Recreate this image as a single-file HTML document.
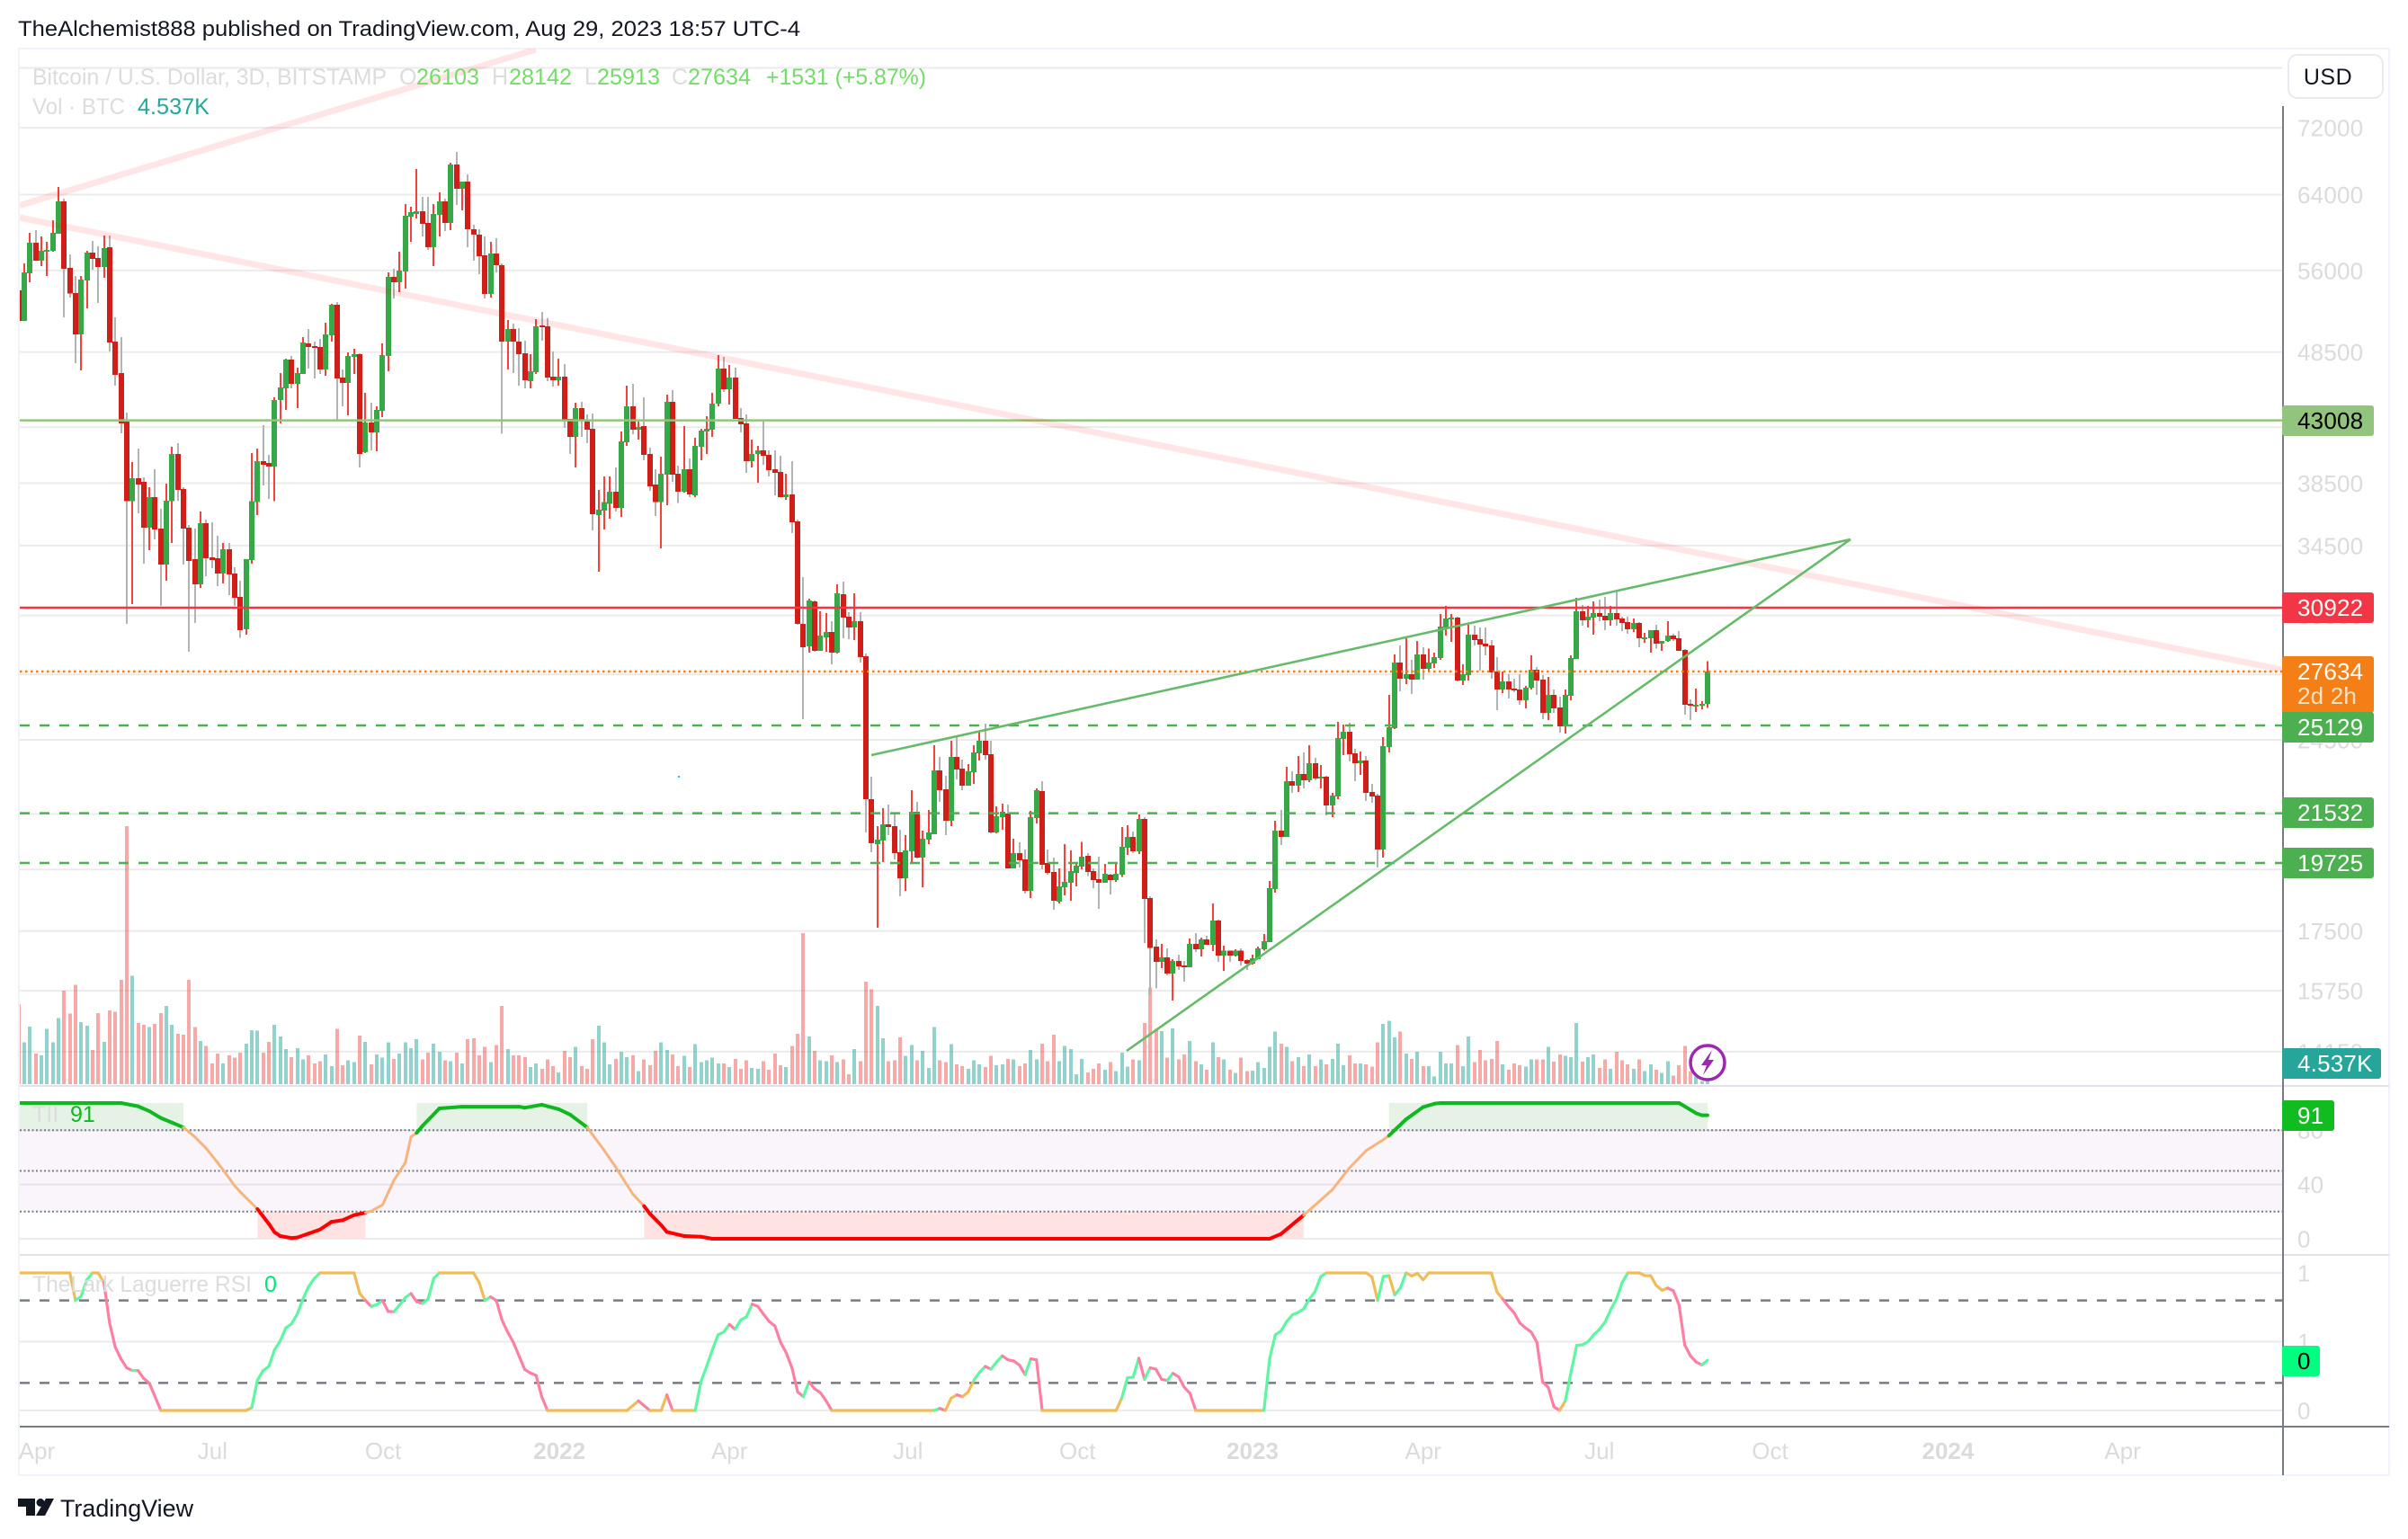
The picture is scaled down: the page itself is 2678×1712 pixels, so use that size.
<!DOCTYPE html>
<html lang="en">
<head>
<meta charset="utf-8">
<title>BTCUSD 3D chart</title>
<style>
html,body{margin:0;padding:0;background:#fff;}
svg{display:block;font-family:"Liberation Sans",sans-serif;}
</style>
</head>
<body>
<svg id="chart" xmlns="http://www.w3.org/2000/svg" width="2678" height="1712" viewBox="0 0 2678 1712">
  <defs>
    <clipPath id="paneClip"><rect x="22" y="54" width="2516" height="1533"/></clipPath>
  </defs>
  <rect x="0" y="0" width="2678" height="1712" fill="#ffffff"/>
  <text x="20" y="40" font-size="24.5" fill="#131722" textLength="870" lengthAdjust="spacingAndGlyphs">TheAlchemist888 published on TradingView.com, Aug 29, 2023 18:57 UTC-4</text>
  <rect x="21" y="54" width="2636" height="1587" fill="none" stroke="#F0F3FA" stroke-width="2"/>
  <g id="priceGrid"></g>
  <g id="paneBands" clip-path="url(#paneClip)"></g>
  <g id="volumeBars" clip-path="url(#paneClip)" shape-rendering="crispEdges"></g>
  <g id="candles" clip-path="url(#paneClip)" shape-rendering="crispEdges"></g>
  <g id="drawings" clip-path="url(#paneClip)"></g>
  <g id="tiiLine" clip-path="url(#paneClip)" fill="none" stroke-linecap="round"></g>
  <g id="lrsiLine" clip-path="url(#paneClip)" fill="none" stroke-linecap="round"></g>
  <rect x="754" y="863" width="2" height="2" fill="#26C6DA"/>

  <line x1="22" y1="1208" x2="2657" y2="1208" stroke="#E0E3EB" stroke-width="2"/>
  <line x1="22" y1="1396" x2="2657" y2="1396" stroke="#E0E3EB" stroke-width="2"/>
  <line x1="22" y1="1587" x2="2657" y2="1587" stroke="#787B86" stroke-width="2"/>
  <line x1="2539" y1="118" x2="2539" y2="1641" stroke="#787B86" stroke-width="2"/>

  <g id="priceTicks" font-size="26" fill="#DBDBDB" letter-spacing="0.2"></g>
  <g id="timeTicks" font-size="26" fill="#DBDBDB" text-anchor="middle"></g>

  <g>
    <text x="36" y="94" font-size="25" fill="#DCDCDE" textLength="394" lengthAdjust="spacingAndGlyphs">Bitcoin / U.S. Dollar, 3D, BITSTAMP</text>
    <text x="444" y="94" font-size="25" fill="#DCDCDE">O</text>
    <text x="463" y="94" font-size="25" fill="#74DC68" textLength="70" lengthAdjust="spacingAndGlyphs">26103</text>
    <text x="547" y="94" font-size="25" fill="#DCDCDE">H</text>
    <text x="566" y="94" font-size="25" fill="#74DC68" textLength="70" lengthAdjust="spacingAndGlyphs">28142</text>
    <text x="650" y="94" font-size="25" fill="#DCDCDE">L</text>
    <text x="664" y="94" font-size="25" fill="#74DC68" textLength="70" lengthAdjust="spacingAndGlyphs">25913</text>
    <text x="747" y="94" font-size="25" fill="#DCDCDE">C</text>
    <text x="765" y="94" font-size="25" fill="#74DC68" textLength="70" lengthAdjust="spacingAndGlyphs">27634</text>
    <text x="852" y="94" font-size="25" fill="#74DC68" textLength="178" lengthAdjust="spacingAndGlyphs">+1531 (+5.87%)</text>
    <text x="36" y="127" font-size="25" fill="#DCDCDE" textLength="103" lengthAdjust="spacingAndGlyphs">Vol · BTC</text>
    <text x="153" y="127" font-size="25" fill="#26A69A" textLength="80" lengthAdjust="spacingAndGlyphs">4.537K</text>
  </g>
  <text x="36" y="1248" font-size="25" fill="#DCDCDE">TII</text>
  <text x="78" y="1248" font-size="25" fill="#10B820">91</text>
  <text x="36" y="1437" font-size="25" fill="#DCDCDE" textLength="244" lengthAdjust="spacingAndGlyphs">TheLark Laguerre RSI</text>
  <text x="294" y="1437" font-size="25" fill="#00E676">0</text>

  <g>
    <circle cx="1899" cy="1182" r="19" fill="#ffffff" stroke="#9C27B0" stroke-width="3.5"/>
    <polygon points="1904,1168 1892,1185 1898,1185 1894,1196 1906,1179 1900,1179" fill="#9C27B0"/>
  </g>

  <g font-size="26" letter-spacing="0.2">
    <rect x="2538" y="451" width="102" height="34" rx="3" fill="#93C47D"/>
    <text x="2555" y="477" fill="#000000">43008</text>
    <rect x="2538" y="659" width="102" height="34" rx="3" fill="#F23645"/>
    <text x="2555" y="685" fill="#ffffff">30922</text>
    <rect x="2538" y="730" width="102" height="63" rx="3" fill="#F57F17"/>
    <text x="2555" y="756" fill="#ffffff">27634</text>
    <text x="2555" y="783" fill="#FFE3C4">2d 2h</text>
    <rect x="2538" y="792" width="102" height="34" rx="3" fill="#4CAF50"/>
    <text x="2555" y="818" fill="#ffffff">25129</text>
    <rect x="2538" y="887" width="102" height="34" rx="3" fill="#4CAF50"/>
    <text x="2555" y="913" fill="#ffffff">21532</text>
    <rect x="2538" y="943" width="102" height="34" rx="3" fill="#4CAF50"/>
    <text x="2555" y="969" fill="#ffffff">19725</text>
    <rect x="2538" y="1166" width="110" height="34" rx="3" fill="#26A69A"/>
    <text x="2555" y="1192" fill="#ffffff">4.537K</text>
    <rect x="2538" y="1224" width="58" height="34" rx="3" fill="#10BC20"/>
    <text x="2555" y="1250" fill="#ffffff">91</text>
    <rect x="2538" y="1497" width="42" height="34" rx="3" fill="#00FF80"/>
    <text x="2555" y="1523" fill="#000000">0</text>
  </g>

  <rect x="2545" y="61" width="105" height="48" rx="10" fill="#ffffff" stroke="#E8EAF0" stroke-width="2"/>
  <text x="2589" y="94" font-size="25" fill="#131722" text-anchor="middle" letter-spacing="0.5">USD</text>

  <g fill="#131722">
    <polygon points="20,1667 39,1667 39,1686 29,1686 29,1676 20,1676"/>
    <circle cx="45" cy="1671.5" r="4.5"/>
    <polygon points="51,1667 60,1667 50,1686 40,1686"/>
    <text x="67" y="1687" font-size="27" textLength="148" lengthAdjust="spacingAndGlyphs">TradingView</text>
  </g>
</svg>

<script>
const opens = [54080,51240,55730,58810,56980,57880,57980,59750,63260,56260,
53820,50040,55030,57790,57250,56350,58350,49400,46740,42920,
37290,38840,38590,35600,37570,35550,33360,37290,40540,38110,
35600,33680,32220,35880,33790,33740,32830,34280,32830,31520,
29770,33630,37230,40030,39900,39650,44580,45500,47870,45870,
46670,49250,49020,48940,47040,49960,52720,46380,45940,48100,
48330,40670,42850,42110,43730,48170,55380,54850,55900,61570,
61860,62150,60900,58350,61760,63260,60900,67490,64670,65500,
60220,59650,57520,53740,57700,56530,49400,50520,49400,48400,
46090,46820,50840,50760,46450,46160,46450,43120,41780,43950,
42920,42380,36400,36690,37110,37930,36860,41380,44090,42320,
42580,40540,38410,37230,39090,44440,39150,37930,39460,37690,
41050,42170,42320,44300,47120,45430,46380,43190,42780,40030,
40540,40790,40470,39460,39270,37570,37750,36000,30050,28880,
31270,28660,29350,29630,28570,31660,30440,29860,30200,28390,
22070,20390,20520,21110,21040,20100,19200,20130,21590,19910,
20550,20750,23220,22450,21250,23770,23290,22600,23140,23920,
24460,23890,20810,21380,21520,19540,20070,19850,18780,21350,
22380,19720,19420,18420,18900,19050,19390,19600,19970,19450,
19170,19050,19330,19140,19330,20260,20650,20130,21320,18540,
17020,16570,16700,16230,16600,16470,16420,17100,16940,17240,
17080,17820,16760,16910,16760,16910,16630,16520,16650,16940,
17160,18840,20880,20650,22780,22600,23070,22820,23510,22920,
22960,21830,22180,24540,24850,23920,23510,23630,22350,22210,
20200,24190,25010,28070,27290,27500,27240,28480,27770,28030,
28300,29860,30290,30390,27200,27460,29490,29250,29020,28930,
27630,26770,27160,26810,26770,26270,26860,27720,27240,25700,
26520,25940,25130,26480,28250,30720,30240,30390,30630,30480,
30240,30630,30340,30150,29770,30100,29300,29300,29720,29020,
29160,29440,29300,28700,26100,26020,26060,26103];

const highs = [57160,56710,59840,60130,59460,58900,61180,64880,63560,57610,
55460,55460,57980,59000,58440,59560,59560,51570,49800,43600,
39960,40920,38900,38230,39460,36800,38470,41050,41310,38230,
35770,35550,36630,36110,35940,35100,34660,34660,33200,32430,
33680,40600,40920,42640,40470,44790,46740,47940,48170,47190,
49800,50520,49400,49640,51080,52800,52970,47040,48480,48790,
48400,45150,44370,44090,49250,55820,56170,57880,62960,62650,
66970,63750,63750,62960,64260,63560,67700,69010,65500,66340,
60700,60220,59460,58900,59280,56710,51320,51000,50600,49480,
48330,51400,52060,51480,48560,47940,47490,43120,44370,44440,
43460,43530,38050,38970,38970,39580,42170,45720,45870,42920,
44790,40990,39460,40350,45000,45360,39710,42580,40220,41710,
42380,43320,45150,48250,48100,47420,47190,43950,43460,41580,
41120,42980,40790,40790,40410,39150,40030,36110,32630,31420,
31320,30720,30630,30200,32220,32380,30680,31710,30680,28520,
22960,21040,21720,21860,21520,20910,20720,22420,21970,20880,
21650,24270,23770,23000,24460,24620,23660,23480,24270,24890,
25210,24460,21790,21900,21860,20590,20450,20200,21620,22490,
22780,20200,19910,19540,20390,20170,19720,20480,20070,19540,
19940,19690,19360,19690,21010,21080,20850,21490,21380,18600,
17240,17100,16970,16650,16780,16600,17270,17440,17300,17350,
18370,17850,17050,16910,16940,16970,16650,16780,17020,17410,
19110,21250,21650,23370,23180,23810,23960,24270,23740,23440,
23000,22320,25290,25170,25250,24120,24000,23810,22670,22280,
24620,26520,28480,28930,29350,28200,29160,28830,28780,28570,
30580,31020,30580,30440,27980,30000,29950,29860,29860,29210,
28340,27630,27500,27290,27500,26940,28430,27850,27460,27370,
26770,26430,26770,28430,31470,31070,31020,31270,31370,31520,
31020,31870,30440,30440,30340,30150,29580,29720,30000,29160,
30200,29530,29670,28750,26310,26810,26230,28142];

const lows = [50360,51240,54850,56940,56440,55470,57880,59750,51570,53400,
47570,46970,52390,56080,52880,55290,48560,45720,42040,30050,
31120,36520,33420,34220,34870,31020,32430,34660,37330,33360,
28610,30100,32020,32680,33150,32120,32270,31610,31020,29330,
29490,33420,36400,38350,37450,37290,42780,43800,45500,43950,
46670,47120,46300,46670,46520,49400,43050,44090,43390,46670,
39580,40600,40790,40730,43260,46890,53310,53910,54250,58900,
61380,59460,58070,56440,59460,60030,60130,62860,62260,58350,
56980,55640,53310,53400,55820,42000,47040,46740,45720,45500,
45500,46670,49480,46090,45650,45720,42440,40540,39580,41780,
41310,35430,32940,35490,36160,36630,36290,41120,41970,41580,
40090,37990,36340,34330,37050,38590,37170,37870,37570,37570,
40090,40540,41780,44090,45220,44230,43120,42110,39210,39580,
38530,39770,38970,37690,37570,37390,35270,30000,25410,28570,
28610,28660,28610,27980,28520,29300,29250,29210,28070,20810,
20100,17600,19750,20720,19850,18600,18780,19750,19880,18900,
20390,20750,21970,20720,21040,22850,22420,22600,22670,23630,
23660,20780,20780,20910,19540,19540,19570,18690,18540,21150,
19510,19330,18170,18370,18630,18450,18930,19510,19270,18870,
18200,19050,18660,19080,19240,20010,20070,20040,17130,15630,
15810,16390,16180,15480,16340,16010,16420,16860,16730,17080,
16890,16570,16310,16570,16730,16470,16340,16500,16650,16910,
17160,18720,20360,20650,22320,22350,22490,22750,22820,22490,
21450,21380,22070,23850,23590,22780,23030,22000,21930,19570,
19910,23960,24970,26690,27030,26560,27240,27240,27680,27810,
28200,29440,29110,27160,26980,27200,28930,27680,28430,27290,
25810,26600,26350,26650,26060,25900,26770,26520,25410,25370,
25700,24810,24770,26270,28250,29950,29860,29490,30200,29720,
29950,29950,29670,29530,29630,28830,29070,28570,28780,28660,
29110,29160,28660,25620,25370,25740,25860,25913];

const closes = [51240,55820,58810,56980,57980,58070,59840,63260,56170,53760,
50040,55110,57790,57160,56350,58250,49330,46590,42780,37290,
38840,38410,35600,37570,35490,33360,37330,40540,38050,35550,
33580,32220,35880,33740,33630,32830,34280,32780,31470,29720,
33680,37290,40030,39770,39650,44580,45580,47870,45870,46740,
49330,48940,48870,47040,50040,52720,46300,45940,48170,48330,
40540,42850,42110,43800,48250,55380,54850,55990,61660,62050,
62150,60800,58350,61860,63260,60900,67490,64670,65500,60220,
59650,57430,53740,57700,56530,49400,50520,49400,48330,46160,
46890,50760,50760,46380,46160,46450,43050,41780,43950,43050,
42320,36460,36750,37230,37930,36860,41450,44090,42320,42510,
40470,38290,37230,39150,44440,39090,37930,39460,37750,41120,
42240,42380,44300,47120,45430,46380,43120,42710,40030,40540,
40790,40410,39400,39210,37570,37750,35940,30050,28830,31320,
28660,29440,29630,28570,31710,30390,29860,30200,28340,22070,
20420,20550,21110,21010,20070,19200,20170,21590,19910,20590,
20810,23220,22420,21250,23770,23250,22600,23180,23960,24460,
23850,20810,21420,21590,19540,20070,19820,18780,21380,22420,
19660,19390,18450,18930,19080,19450,19630,19940,19420,19140,
19050,19360,19140,19360,20290,20650,20130,21320,18510,16990,
16570,16700,16230,16600,16440,16420,17100,16940,17240,17080,
17820,16760,16910,16760,16910,16600,16520,16680,16970,17190,
18870,20880,20650,22780,22600,23070,22820,23510,22890,22960,
21830,22210,24580,24850,23890,23510,23630,22320,22180,20200,
24230,25050,28070,27290,27500,27240,28480,27770,28070,28340,
29910,30340,30390,27200,27500,29490,29210,28980,28880,27590,
26770,27160,26770,26730,26270,26860,27720,27200,25700,26520,
25900,25090,26520,28300,30720,30240,30440,30630,30440,30240,
30630,30290,30100,29770,30100,29300,29350,29720,29020,29160,
29440,29250,28660,26060,26020,26060,26100,27634];

const volumes = [17.2,9.0,12.4,6.6,6.2,11.9,9.0,14.2,20.2,15.2,
21.4,13.4,12.6,7.4,15.3,9.1,15.9,15.6,22.5,55.6,
23.4,13.2,12.8,12.3,13.0,15.3,16.9,12.8,10.9,10.7,
22.5,12.3,9.3,8.2,4.5,6.6,4.5,6.2,5.7,6.8,
8.7,11.6,11.5,6.8,9.1,12.8,10.3,7.6,5.8,7.8,
5.3,6.2,4.5,4.9,6.4,3.9,11.9,4.1,5.1,4.7,
10.5,9.1,4.3,6.4,5.7,9.0,5.4,6.6,9.0,7.8,
9.7,5.3,6.8,8.7,7.0,5.1,4.9,6.8,4.5,9.7,
9.9,6.2,8.0,4.7,8.4,16.9,7.6,6.2,6.2,5.8,
3.7,4.5,3.3,5.3,3.9,2.5,7.2,5.8,8.0,3.9,
3.3,9.7,12.6,9.0,4.3,5.4,7.0,5.8,6.2,2.8,
5.3,4.1,7.2,9.0,7.4,6.4,3.9,6.1,3.7,8.6,
4.7,5.1,5.7,4.5,4.5,3.7,5.4,3.3,5.1,3.5,
3.3,4.9,3.1,6.6,4.1,3.7,8.2,10.9,32.6,10.3,
7.2,5.1,4.9,6.2,4.7,5.3,2.1,7.6,4.9,22.1,
20.4,16.9,9.9,4.9,5.1,10.1,6.1,8.4,5.1,7.2,
3.5,12.3,5.1,4.7,8.6,4.3,3.9,3.3,5.1,4.3,
3.7,6.1,4.1,4.3,5.4,5.3,3.9,4.5,7.4,5.3,
8.7,4.9,10.7,4.9,8.2,7.6,2.1,5.4,2.5,3.3,
4.5,3.1,4.7,2.8,6.8,3.8,5.3,5.1,13.2,20.8,
11.9,11.4,5.7,12.0,5.3,6.4,9.3,4.9,4.3,3.1,
9.0,5.8,5.3,3.1,2.4,5.7,2.8,2.9,4.7,3.5,
8.0,11.3,8.7,8.0,4.9,5.8,3.9,6.4,3.9,5.3,
4.3,5.4,8.7,4.1,6.2,4.5,4.5,4.3,3.8,9.0,
13.0,13.7,10.1,11.3,6.6,5.4,7.0,3.9,3.9,1.6,
7.0,4.5,4.5,8.4,3.9,10.3,4.7,7.4,5.1,5.4,
9.3,4.3,3.1,4.5,4.1,3.8,5.3,5.3,5.3,8.0,
4.8,6.4,6.1,5.8,13.2,4.8,5.8,6.4,3.5,5.3,
3.3,7.0,5.1,4.3,3.3,5.3,2.8,4.3,3.1,2.4,
4.9,1.8,4.1,8.2,2.8,1.6,0.6,4.537];

const tiiBars = [0,18,21,23,25,27,29,31,33,35,36,38,39,42,44,45,46,48,49,51,53,55,57,59,61,62,64,66,68,69,70,71,74,78,88,89,92,95,97,100,103,105,108,110,111,113,114,117,120,122,220,222,226,231,234,237,240,241,244,247,249,250,292,295,296,297];
const tiiValues = [100,100,97.6,94,89,85.5,82,75,66.5,56,50.5,39,34.4,21.9,11,4.9,2,0.5,0.9,3.8,6.8,12.4,13.7,17.4,19.2,20.3,25,43,56,75,78,83,96,97.3,97.3,96.5,98.7,95.4,91.4,82,65,52.8,33,24,18.5,10,5,2,1.5,0,0,3.5,17.4,36,52,65,73,76,88,97,99.5,100,100,92.5,91,91];
const tiiHighZones = [[0,29],[70,100],[241,297]];
const tiiLowZones = [[42,61],[110,226]];

const lrsiBars = [0,9,10,11,12,13,14,15,16,17,18,19,20,21,22,23,24,25,40,41,42,43,44,45,46,47,48,49,50,51,52,53,59,60,61,62,63,64,65,66,67,68,69,70,71,72,73,74,80,81,82,83,84,85,86,87,88,89,90,91,92,93,107,109,111,113,114,115,119,120,121,122,123,124,125,126,127,128,129,130,131,132,133,134,135,136,137,138,139,140,141,142,143,161,162,163,164,165,166,167,168,169,170,171,172,173,174,175,176,177,178,179,180,193,194,195,196,197,198,199,200,201,202,203,204,205,206,207,219,220,221,222,223,224,225,226,227,228,229,230,237,238,239,240,241,242,243,244,245,246,247,248,259,260,261,262,263,264,265,266,267,268,269,270,271,272,273,274,275,276,277,278,279,280,281,282,283,285,286,287,288,289,290,291,292,293,294,295,296,297];
const lrsiValues = [1,1,0.8,0.83,0.95,1,1,0.93,0.636,0.46,0.375,0.31,0.29,0.29,0.233,0.198,0.1,0,0,0.02,0.22,0.29,0.32,0.44,0.505,0.6,0.63,0.7,0.81,0.9,0.96,1,1,0.85,0.8,0.756,0.77,0.8,0.72,0.717,0.767,0.82,0.85,0.79,0.778,0.81,0.96,1,1,0.93,0.8,0.826,0.8,0.658,0.57,0.495,0.397,0.298,0.272,0.255,0.1,0,0,0.07,0,0,0.113,0,0,0.21,0.32,0.44,0.55,0.57,0.625,0.59,0.658,0.68,0.773,0.756,0.7,0.647,0.614,0.495,0.418,0.31,0.135,0.1,0.207,0.157,0.129,0.07,0,0,0.015,0,0.09,0.113,0.1,0.135,0.22,0.277,0.32,0.3,0.353,0.397,0.368,0.36,0.33,0.26,0.375,0.368,0,0,0.09,0.237,0.242,0.38,0.227,0.31,0.3,0.227,0.218,0.27,0.244,0.168,0.124,0,0,0.375,0.55,0.577,0.647,0.695,0.712,0.739,0.81,0.865,0.974,1,1,0.97,0.8,0.974,0.98,0.84,0.89,1,0.978,0.996,0.95,1,1,0.86,0.81,0.756,0.71,0.636,0.6,0.57,0.495,0.207,0.168,0.026,0,0.07,0.277,0.473,0.477,0.5,0.55,0.59,0.643,0.734,0.81,0.93,1,1,0.98,0.98,0.908,0.874,0.89,0.87,0.767,0.477,0.397,0.353,0.331,0.364];
const lrsiAmberZones = [[0,10],[13,15],[25,41],[53,61],[74,82],[93,109],[111,114],[115,119],[143,161],[163,165],[166,168],[180,194],[207,219],[230,239],[241,242],[244,248],[248,261],[271,272],[283,290]];

const gridPrices = [80000,72000,64000,56000,48500,42500,38500,34500,30500,27500,24500,21500,19500,17500,15750,14150];
const priceTickLabels = [72000,64000,56000,48500,42500,38500,34500,30500,27500,24500,21500,19500,17500,15750,14150];
const tiiGridValues = [80,40,0];
const tiiTickLabels = [80,40,0];
const tiiDottedLevels = [80,50,20];
const rsiGridValues = [1,0.5,0];
const rsiTickValues = [1,0.5,0];
const rsiTickLabels = ['1','1','0'];
const rsiDashedLevels = [0.8,0.2];
const timeTickBars = [3.2,34.1,64.1,95.1,125,156.4,186.2,217,247,278,308,339.3,370];
const timeTickLabels = ['Apr','Jul','Oct','2022','Apr','Jul','Oct','2023','Apr','Jul','Oct','2024','Apr'];
const timeTickMajor = [false,false,false,true,false,false,false,true,false,false,false,true,false];
const levelSupports = [25129,21532,19725];
const levelResistance = 30922;
const levelMajor = 43008;
const levelLast = 27634;

const NS = 'http://www.w3.org/2000/svg';
function xBar(i){ return 20.7 + 6.324 * i; }
function yPrice(p){ return 747 - 631.7 * Math.log(p / 27634); }
function yVol(v){ return 1206 - 5.16 * v; }
function yTii(v){ return 1378 - 1.51 * v; }
function yRsi(v){ return 1569 - 153 * v; }
function make(tag, parentId, props){
  const node = document.createElementNS(NS, tag);
  for (const k in props) node.setAttribute(k, props[k]);
  document.getElementById(parentId).appendChild(node);
  return node;
}
function inZones(zones, a, b){
  return zones.some(function(z){ return a >= z[0] && b <= z[1]; });
}

// grid + price ticks
gridPrices.forEach(function(p){
  const ln = make('line', 'priceGrid', {x1:22, x2:2538, y1:yPrice(p), y2:yPrice(p), stroke:'#EBEBEB', 'stroke-width':2});
  
  
});
tiiGridValues.forEach(function(v){
  const ln = make('line', 'priceGrid', {x1:22, x2:2538, y1:yTii(v), y2:yTii(v), stroke:'#EBEBEB', 'stroke-width':2});
  
  
});
rsiGridValues.forEach(function(v){
  const ln = make('line', 'priceGrid', {x1:22, x2:2538, y1:yRsi(v), y2:yRsi(v), stroke:'#EBEBEB', 'stroke-width':2});
  
  
});
priceTickLabels.forEach(function(p){
  const t = make('text', 'priceTicks', {x:2555, y:yPrice(p) + 9.5});
  
  
  t.textContent = String(p);
});
tiiTickLabels.forEach(function(v){
  const t = make('text', 'priceTicks', {x:2555, y:yTii(v) + 9.5});
  
  
  t.textContent = String(v);
});
rsiTickValues.forEach(function(v, k){
  const t = make('text', 'priceTicks', {x:2555, y:yRsi(v) + 9.5});
  
  
  t.textContent = rsiTickLabels[k];
});
timeTickBars.forEach(function(b, k){
  const t = make('text', 'timeTicks', {x:xBar(b), y:1623, 'font-weight':timeTickMajor[k] ? 'bold' : 'normal'});
  
  
  t.textContent = timeTickLabels[k];
});

// TII bands and zones
const tiiBand = make('rect', 'paneBands', {x:22, y:yTii(80), width:2516, height:yTii(20) - yTii(80), fill:'#9C27B0', 'fill-opacity':0.05});


tiiHighZones.forEach(function(z){
  const r = make('rect', 'paneBands', {x:xBar(z[0]), y:yTii(100), width:xBar(z[1]) - xBar(z[0]), height:yTii(80) - yTii(100), fill:'#E7F2E6'});
  
  
});
tiiLowZones.forEach(function(z){
  const r = make('rect', 'paneBands', {x:xBar(z[0]), y:yTii(20), width:xBar(z[1]) - xBar(z[0]), height:yTii(0) - yTii(20), fill:'#FFE3E3'});
  
  
});
tiiDottedLevels.forEach(function(v){
  const ln = make('line', 'paneBands', {x1:22, x2:2538, y1:yTii(v), y2:yTii(v), stroke:'#787B86', 'stroke-width':2, 'stroke-dasharray':'2 2.5'});
  
  
});
rsiDashedLevels.forEach(function(v){
  const ln = make('line', 'paneBands', {x1:22, x2:2538, y1:yRsi(v), y2:yRsi(v), stroke:'#787B86', 'stroke-width':2.5, 'stroke-dasharray':'11 11'});
  
  
});

// volume and candles
volumes.forEach(function(v, i){
  const up = closes[i] >= opens[i];
  const r = make('rect', 'volumeBars', {x:Math.round(xBar(i) - 2), y:yVol(v), width:4, height:1206 - yVol(v), fill:up ? 'rgba(38,166,154,0.5)' : 'rgba(239,83,80,0.5)'});
  
  
});
opens.forEach(function(o, i){
  const c = closes[i];
  const up = c >= o;
  const cx = xBar(i);
  const wick = make('rect', 'candles', {x:Math.round(cx - 1), y:yPrice(highs[i]), width:2, height:yPrice(lows[i]) - yPrice(highs[i]), fill:up ? '#F6403B' : '#B3B3B3'});
  
  
  const top = yPrice(Math.max(o, c));
  const bot = yPrice(Math.min(o, c));
  const body = make('rect', 'candles', {x:Math.round(cx - 3), y:top, width:6, height:Math.max(2, bot - top), fill:up ? '#37A848' : '#D01F19'});
  
  
});

// horizontal price levels
const majorLine = make('line', 'drawings', {x1:22, x2:2538, y1:yPrice(levelMajor), y2:yPrice(levelMajor), stroke:'#93C47D', 'stroke-width':2.5});


const resistLine = make('line', 'drawings', {x1:22, x2:2538, y1:yPrice(levelResistance), y2:yPrice(levelResistance), stroke:'#F23645', 'stroke-width':2.5});


const lastLine = make('line', 'drawings', {x1:22, x2:2538, y1:yPrice(levelLast), y2:yPrice(levelLast), stroke:'#F57F17', 'stroke-width':2.5, 'stroke-dasharray':'2.5 3.5'});


levelSupports.forEach(function(p){
  const ln = make('line', 'drawings', {x1:22, x2:2538, y1:yPrice(p), y2:yPrice(p), stroke:'#4CAF50', 'stroke-width':2.5, 'stroke-dasharray':'11 11'});
  
  
});

// trendlines (drawn by the author on the chart canvas)
const trendA = make('line', 'drawings', {x1:22, y1:228.5, x2:596, y2:55, stroke:'#FF0000', 'stroke-opacity':0.1, 'stroke-width':7});


const trendB = make('line', 'drawings', {x1:22, y1:242, x2:2538, y2:745, stroke:'#FF0000', 'stroke-opacity':0.1, 'stroke-width':7});


const wedgeTop = make('line', 'drawings', {x1:969, y1:840, x2:2058, y2:600, stroke:'#66BB6A', 'stroke-width':2.6});


const wedgeBottom = make('line', 'drawings', {x1:1253, y1:1169, x2:2058, y2:600, stroke:'#66BB6A', 'stroke-width':2.6});



// TII line
tiiBars.forEach(function(b, k){
  if (k === 0) return;
  const a = tiiBars[k - 1];
  let color = '#F5B57C';
  let w = 3;
  if (inZones(tiiHighZones, a, b)) { color = '#10B820'; w = 4; }
  if (inZones(tiiLowZones, a, b)) { color = '#FF0000'; w = 4; }
  const s = make('line', 'tiiLine', {x1:xBar(a), y1:yTii(tiiValues[k - 1]), x2:xBar(b), y2:yTii(tiiValues[k]), stroke:color, 'stroke-width':w});
  
  
});

// Laguerre RSI line
lrsiBars.forEach(function(b, k){
  if (k === 0) return;
  const a = lrsiBars[k - 1];
  const v0 = lrsiValues[k - 1];
  const v1 = lrsiValues[k];
  let color = v1 >= v0 ? '#5CF7A0' : '#FF7FA3';
  if (inZones(lrsiAmberZones, a, b)) color = '#F0BC58';
  const s = make('line', 'lrsiLine', {x1:xBar(a), y1:yRsi(v0), x2:xBar(b), y2:yRsi(v1), stroke:color, 'stroke-width':3.2});
  
  
});
</script>
</body>
</html>
